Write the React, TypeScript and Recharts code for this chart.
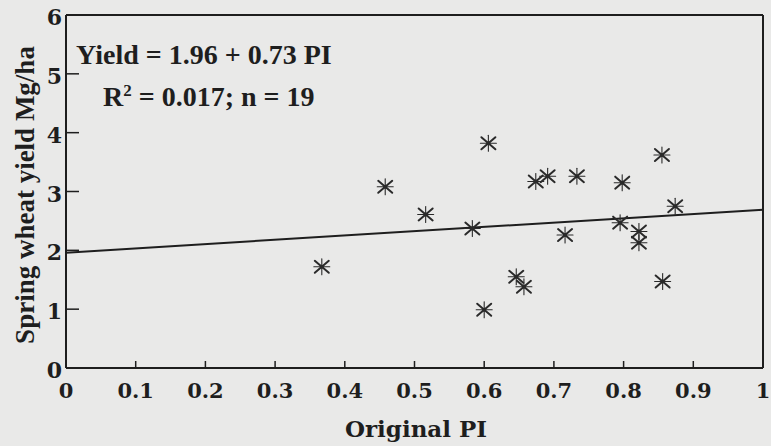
import React from "react";
import { ScatterChart, Scatter, XAxis, YAxis, ReferenceLine } from "recharts";

// values
const piValues = [
  0.606, 0.855, 0.458, 0.674, 0.691, 0.733, 0.798, 0.874, 0.516, 0.583,
  0.795, 0.716, 0.822, 0.822, 0.646, 0.657, 0.856, 0.6, 0.367,
];
const yieldValues = [
  3.82, 3.62, 3.08, 3.17, 3.26, 3.26, 3.15, 2.75, 2.61, 2.37,
  2.47, 2.26, 2.32, 2.13, 1.55, 1.38, 1.47, 0.99, 1.72,
];
const xTicks = [0, 0.1, 0.2, 0.3, 0.4, 0.5, 0.6, 0.7, 0.8, 0.9, 1];
const yTicks = [0, 1, 2, 3, 4, 5, 6];
// fitted line: Yield = 1.96 + 0.73 PI
const fitX = [0, 1];
const fitY = [1.96, 2.69];

const points = piValues.map((pi, i) => ({ pi, yield: yieldValues[i] }));

const INK = "#1e1e1e";
const TICK_FONT = "'DejaVu Serif', serif";
const TEXT_FONT = "'Liberation Serif', 'Times New Roman', serif";

const Asterisk = (props: any) => {
  const { cx, cy } = props;
  return (
    <g stroke="#2a2a2a" strokeLinecap="round">
      <line x1={cx - 7} y1={cy - 6} x2={cx + 7} y2={cy + 6} strokeWidth={2} />
      <line x1={cx - 7} y1={cy + 6} x2={cx + 7} y2={cy - 6} strokeWidth={2} />
      <line x1={cx} y1={cy - 8} x2={cx} y2={cy + 8} strokeWidth={1.1} />
      <line x1={cx - 8} y1={cy} x2={cx + 8} y2={cy} strokeWidth={1.1} />
      <circle cx={cx} cy={cy} r={2} fill="#2a2a2a" stroke="none" />
    </g>
  );
};

const XTick = (props: any) => {
  const { x, y, payload } = props;
  const v = payload.value;
  const inner = v > 0 && v < 1;
  return (
    <g>
      {inner && <line x1={x} y1={y} x2={x} y2={y - 7} stroke={INK} strokeWidth={1.5} />}
      <text
        x={x}
        y={y + 30}
        textAnchor="middle"
        fontFamily={TICK_FONT}
        fontWeight="bold"
        fontSize={21}
        fill={INK}
      >
        {String(v)}
      </text>
    </g>
  );
};

const YTick = (props: any) => {
  const { x, y, payload } = props;
  const v = payload.value;
  const inner = v > 0 && v < 6;
  return (
    <g>
      {inner && <line x1={x} y1={y} x2={x + 13} y2={y} stroke={INK} strokeWidth={1.5} />}
      <text
        x={x - 4}
        y={y + 10}
        textAnchor="end"
        fontFamily={TICK_FONT}
        fontWeight="bold"
        fontSize={22}
        fill={INK}
      >
        {String(v)}
      </text>
    </g>
  );
};

export default function App() {
  return (
    <div
      style={{
        position: "absolute",
        left: 0,
        top: 0,
        width: 771,
        height: 446,
        background: "#e9e9e8",
        overflow: "hidden",
      }}
    >
      <ScatterChart width={771} height={446} margin={{ top: 15, right: 8, bottom: 0, left: 0 }}>
        <XAxis
          type="number"
          dataKey="pi"
          domain={[0, 1]}
          ticks={xTicks}
          interval={0}
          height={78}
          tickSize={0}
          tickMargin={0}
          tickLine={false}
          axisLine={{ stroke: INK, strokeWidth: 2 }}
          tick={<XTick />}
        />
        <YAxis
          type="number"
          dataKey="yield"
          domain={[0, 6]}
          ticks={yTicks}
          interval={0}
          width={66}
          tickSize={0}
          tickMargin={0}
          tickLine={false}
          axisLine={{ stroke: INK, strokeWidth: 2 }}
          tick={<YTick />}
        />
        <ReferenceLine y={6} stroke={INK} strokeWidth={2} />
        <ReferenceLine x={1} stroke={INK} strokeWidth={2} />
        <ReferenceLine
          segment={[
            { x: fitX[0], y: fitY[0] },
            { x: fitX[1], y: fitY[1] },
          ]}
          stroke={INK}
          strokeWidth={2}
        />
        <Scatter data={points} shape={<Asterisk />} isAnimationActive={false} />
      </ScatterChart>
      <svg
        width={771}
        height={446}
        style={{ position: "absolute", left: 0, top: 0, pointerEvents: "none" }}
      >
        <text x={76} y={64} fontFamily={TEXT_FONT} fontWeight="bold" fontSize={28} fill={INK}>
          Yield = 1.96 + 0.73 PI
        </text>
        <text x={103} y={106} fontFamily={TEXT_FONT} fontWeight="bold" fontSize={28} fill={INK}>
          R<tspan dy={-10} fontSize={17}>2</tspan>
          <tspan dy={10}> = 0.017; n = 19</tspan>
        </text>
        <text
          x={0}
          y={0}
          transform="translate(34 195) rotate(-90)"
          textAnchor="middle"
          fontFamily={TEXT_FONT}
          fontWeight="bold"
          fontSize={27}
          fill={INK}
        >
          Spring wheat yield Mg/ha
        </text>
        <text
          x={416}
          y={437}
          textAnchor="middle"
          fontFamily={TICK_FONT}
          fontWeight="bold"
          fontSize={23}
          fill={INK}
        >
          Original PI
        </text>
      </svg>
    </div>
  );
}
